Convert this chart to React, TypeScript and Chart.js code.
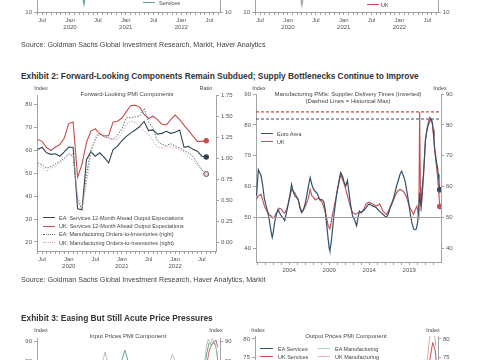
import React, { useEffect, useRef } from "react";
import { Chart, registerables } from "chart.js";
Chart.register(...registerables);

const FONT = '"Liberation Sans", Arial, Helvetica, sans-serif';
const AXIS = "#8c8c8c";
const TICK = "#555555";
const EA_DARK = "#2f4456";
const EA_BLUE = "#34506b";
const UK_RED = "#c44e4e";

// ---------- Exhibit 2 (left): Forward-Looking PMI Components, monthly Jun 2019 .. Aug 2022 ----------
const fwdStartYear = 2019;
const fwdStartMonth0 = 5; // June
const eaServicesExpectations = [60.4, 61.4, 59.0, 58.3, 58.6, 57.5, 59.4, 61.5, 61.3, 34.5, 34.0, 56.0, 59.5, 57.5, 59.0, 57.0, 54.6, 60.4, 61.9, 64.3, 66.2, 67.7, 69.0, 70.5, 72.7, 68.7, 69.0, 67.2, 67.5, 68.4, 67.5, 68.0, 69.0, 61.4, 61.8, 60.5, 59.7, 57.5, 57.2];
const ukServicesExpectations = [64.8, 64.0, 61.3, 60.0, 61.5, 62.6, 65.5, 71.8, 72.5, 48.3, 54.0, 63.5, 68.5, 69.5, 67.2, 66.4, 66.5, 72.5, 72.8, 74.2, 77.0, 79.7, 79.8, 79.0, 75.8, 74.0, 75.0, 73.5, 71.5, 71.2, 73.5, 75.5, 73.5, 71.0, 68.8, 66.3, 64.0, 64.0, 64.3];
const eaOrdersToInventories = [0.94, 0.92, 0.88, 0.90, 0.93, 0.96, 1.00, 1.05, 1.02, 0.50, 0.38, 0.80, 1.10, 1.22, 1.30, 1.25, 1.24, 1.22, 1.27, 1.35, 1.48, 1.48, 1.49, 1.50, 1.59, 1.43, 1.36, 1.20, 1.16, 1.15, 1.17, 1.14, 1.12, 1.09, 1.06, 1.02, 0.94, 0.86, 0.81];
const ukOrdersToInventories = [0.90, 0.89, 0.84, 0.88, 0.90, 0.94, 0.98, 1.04, 1.05, 0.55, 0.40, 0.70, 1.05, 1.25, 1.33, 1.28, 1.24, 1.23, 1.22, 1.30, 1.40, 1.44, 1.42, 1.38, 1.32, 1.28, 1.20, 1.13, 1.12, 1.14, 1.13, 1.12, 1.10, 1.07, 1.02, 0.97, 0.92, 0.86, 0.81];
const fwdIndexTicks = [20, 30, 40, 50, 60, 70, 80];
const fwdRatioTicks = [0, 0.25, 0.5, 0.75, 1.0, 1.25, 1.5, 1.75];

// ---------- Exhibit 2 (right): Supplier delivery times (inverted) ----------
const euroAreaDates = [1999.92, 2000.14, 2000.48, 2000.7, 2000.9, 2001.12, 2001.35, 2001.53, 2001.75, 2001.88, 2002.0, 2002.17, 2002.4, 2002.6, 2002.8, 2003.02, 2003.25, 2003.44, 2003.65, 2003.87, 2004.1, 2004.29, 2004.5, 2004.71, 2004.92, 2005.14, 2005.35, 2005.56, 2005.78, 2005.98, 2006.15, 2006.33, 2006.5, 2006.62, 2006.85, 2007.05, 2007.25, 2007.47, 2007.7, 2007.89, 2008.1, 2008.32, 2008.5, 2008.61, 2008.75, 2008.87, 2009.0, 2009.08, 2009.22, 2009.37, 2009.58, 2009.79, 2009.95, 2010.14, 2010.3, 2010.43, 2010.65, 2010.86, 2011.07, 2011.28, 2011.5, 2011.7, 2011.92, 2012.13, 2012.42, 2012.6, 2012.77, 2013.0, 2013.19, 2013.4, 2013.61, 2013.82, 2014.04, 2014.25, 2014.46, 2014.67, 2014.88, 2015.1, 2015.31, 2015.52, 2015.73, 2015.94, 2016.15, 2016.37, 2016.58, 2016.79, 2017.0, 2017.21, 2017.42, 2017.63, 2017.85, 2018.05, 2018.27, 2018.49, 2018.7, 2018.9, 2019.11, 2019.32, 2019.54, 2019.7, 2019.88, 2020.05, 2020.17, 2020.3, 2020.39, 2020.47, 2020.6, 2020.8, 2021.03, 2021.2, 2021.32, 2021.45, 2021.57, 2021.7, 2021.79, 2021.9, 2021.99, 2022.08, 2022.17, 2022.3, 2022.42, 2022.55, 2022.63, 2022.72, 2022.81];
const euroAreaDelivery = [57.0, 65.5, 63.6, 60.2, 56.0, 53.7, 51.5, 48.9, 45.2, 43.5, 45.0, 48.4, 51.0, 52.7, 51.5, 50.5, 49.8, 49.0, 51.5, 54.3, 57.5, 60.7, 58.5, 57.0, 56.5, 55.7, 53.0, 51.6, 52.5, 54.3, 56.5, 59.1, 61.5, 62.9, 60.5, 59.1, 58.5, 57.9, 56.5, 55.7, 55.8, 55.2, 52.5, 49.5, 46.0, 43.0, 40.0, 39.2, 41.5, 45.0, 50.5, 54.8, 58.0, 60.7, 63.0, 64.5, 63.5, 61.5, 60.2, 62.0, 57.5, 53.7, 50.5, 49.5, 47.3, 50.0, 52.1, 51.5, 52.1, 52.5, 53.2, 54.0, 54.4, 54.0, 53.7, 53.5, 53.2, 52.5, 52.0, 51.5, 51.0, 50.5, 50.1, 51.0, 53.0, 54.5, 55.9, 58.0, 60.2, 62.0, 64.0, 65.0, 63.5, 61.7, 58.5, 55.4, 51.5, 48.4, 46.3, 46.0, 46.3, 48.4, 52.0, 58.0, 55.0, 53.7, 58.0, 65.0, 75.3, 78.0, 79.5, 80.5, 81.2, 81.9, 81.5, 80.5, 78.5, 75.5, 72.6, 70.0, 67.7, 66.0, 64.0, 61.5, 59.0];
const ukDates = [1999.92, 2000.14, 2000.48, 2000.7, 2000.9, 2001.12, 2001.33, 2001.55, 2001.75, 2001.95, 2002.17, 2002.4, 2002.6, 2002.8, 2003.02, 2003.25, 2003.44, 2003.65, 2003.87, 2004.08, 2004.29, 2004.5, 2004.71, 2004.92, 2005.14, 2005.35, 2005.56, 2005.78, 2005.98, 2006.15, 2006.33, 2006.5, 2006.62, 2006.83, 2007.05, 2007.26, 2007.47, 2007.68, 2007.89, 2008.1, 2008.3, 2008.52, 2008.7, 2008.87, 2009.08, 2009.22, 2009.37, 2009.58, 2009.79, 2010.0, 2010.22, 2010.43, 2010.65, 2010.86, 2011.07, 2011.28, 2011.5, 2011.7, 2011.92, 2012.13, 2012.34, 2012.55, 2012.77, 2013.0, 2013.19, 2013.4, 2013.61, 2013.82, 2014.04, 2014.25, 2014.46, 2014.67, 2014.88, 2015.1, 2015.31, 2015.52, 2015.73, 2015.94, 2016.15, 2016.37, 2016.58, 2016.79, 2017.0, 2017.21, 2017.42, 2017.63, 2017.85, 2018.05, 2018.27, 2018.49, 2018.69, 2018.9, 2019.12, 2019.33, 2019.54, 2019.75, 2019.96, 2020.1, 2020.2, 2020.3, 2020.39, 2020.47, 2020.6, 2020.8, 2021.03, 2021.2, 2021.32, 2021.45, 2021.57, 2021.7, 2021.79, 2021.9, 2021.99, 2022.08, 2022.17, 2022.3, 2022.42, 2022.55, 2022.63, 2022.72, 2022.81];
const ukDelivery = [55.9, 57.0, 57.5, 55.5, 53.7, 52.5, 51.6, 50.8, 50.5, 49.8, 50.3, 51.5, 52.2, 53.0, 52.7, 51.8, 51.5, 52.5, 54.3, 56.5, 59.1, 58.5, 58.0, 56.8, 55.7, 53.5, 51.8, 52.5, 53.5, 54.5, 55.7, 57.5, 59.1, 57.0, 56.5, 55.7, 56.0, 56.4, 55.5, 55.0, 53.5, 51.6, 49.5, 47.3, 46.3, 48.0, 50.5, 53.0, 55.7, 58.5, 61.2, 63.9, 62.4, 61.0, 59.1, 57.0, 54.8, 53.0, 51.6, 51.3, 51.0, 51.5, 51.6, 51.8, 52.0, 53.2, 54.4, 54.8, 55.0, 54.6, 54.4, 54.0, 53.7, 54.0, 54.4, 53.2, 52.0, 51.5, 51.0, 52.0, 53.0, 54.0, 55.4, 56.8, 58.0, 58.8, 59.1, 58.8, 58.5, 57.5, 56.4, 54.5, 53.0, 52.0, 51.0, 52.5, 53.7, 51.5, 50.5, 84.2, 60.0, 52.0, 56.0, 64.0, 75.0, 78.5, 80.0, 81.5, 82.5, 82.0, 81.5, 80.0, 78.0, 75.0, 72.0, 69.0, 66.0, 63.0, 60.0, 57.0, 53.6];
const euroAreaHistoricalMax = 81.9;
const ukHistoricalMax = 84.2;
const neutralLevel = 50;
const deliveryIndexTicks = [40, 50, 60, 70, 80, 90];
const deliveryYearTicks = [2000, 2001, 2002, 2003, 2004, 2005, 2006, 2007, 2008, 2009, 2010, 2011, 2012, 2013, 2014, 2015, 2016, 2017, 2018, 2019, 2020, 2021, 2022];
const deliveryYearLabels = [2004, 2009, 2014, 2019];

// ---------- Exhibit 1 (bottom edge visible only) ----------
const ex1DipMonths = [9, 10, 11];
const ex1ServicesDip = [30, 14.5, 32];
const ex1OtherDip = [30, 14, 32];
const ex1IndexTicks = [10, 20, 30, 40, 50, 60, 70];

// ---------- Exhibit 3 (top edge visible only) ----------
const ex3InputUkMfgYears = [2007.9, 2008.45, 2009.0, 2012.0, 2016.4, 2016.95, 2017.6, 2019.0, 2020.9, 2021.25, 2021.5, 2021.75, 2022.0, 2022.25, 2022.5, 2022.7];
const ex3InputUkMfg = [76, 84.5, 76, null, 76, 83.5, 76, null, 75, 87, 91, 88, 91.2, 90, 86, 83];
const ex3InputEaMfgYears = [2010.4, 2010.95, 2011.5, 2015.0, 2020.9, 2021.3, 2021.6, 2021.9, 2022.2, 2022.5, 2022.7];
const ex3InputEaMfg = [78, 85.5, 78, null, 74, 84, 89, 88, 90, 86, 80];
const ex3InputUkSvcYears = [2021.1, 2021.6, 2021.9, 2022.2, 2022.45, 2022.7];
const ex3InputUkSvc = [74, 85, 88, 89, 90.5, 87];
const ex3OutputUkMfgYears = [2021.5, 2021.9, 2022.2, 2022.5, 2022.7];
const ex3OutputUkMfg = [72, 80, 83, 82, 78];
const ex3OutputUkSvcYears = [2021.6, 2022.0, 2022.3, 2022.6, 2022.75];
const ex3OutputUkSvc = [70, 75, 79, 77, 74];

const monthTickLabel = (m: number) => {
  const t = fwdStartMonth0 + m;
  const mo = ((t % 12) + 12) % 12;
  const yr = fwdStartYear + Math.floor(t / 12);
  if (mo === 0) return ["Jan", String(yr)];
  if (mo === 6) return "Jul";
  return "";
};

const range = (a: number, b: number) => {
  const r: number[] = [];
  for (let i = a; i <= b; i++) r.push(i);
  return r;
};

function yScale(position: string, min: number, max: number, ticks: number[], width: number, fmt: (v: number) => string) {
  return {
    type: "linear",
    position,
    min,
    max,
    afterFit: (s: any) => { s.width = width; },
    afterBuildTicks: (s: any) => { s.ticks = ticks.map((v) => ({ value: v })); },
    grid: { display: true, drawOnChartArea: false, drawTicks: true, tickLength: 3, color: AXIS, lineWidth: 0.8 },
    border: { display: true, color: AXIS, width: 0.8 },
    ticks: { autoSkip: false, padding: 2, color: TICK, font: { family: FONT, size: 6 }, callback: (v: any) => fmt(Number(v)) },
  };
}

function xScale(min: number, max: number, ticks: number[], height: number, label: (v: number) => any) {
  return {
    type: "linear",
    position: "bottom",
    min,
    max,
    afterFit: (s: any) => { s.height = height; },
    afterBuildTicks: (s: any) => { s.ticks = ticks.map((v) => ({ value: v })); },
    grid: { display: true, drawOnChartArea: false, drawTicks: true, tickLength: 3, color: AXIS, lineWidth: 0.8 },
    border: { display: true, color: AXIS, width: 0.8 },
    ticks: { autoSkip: false, maxRotation: 0, minRotation: 0, padding: 1.5, color: TICK, font: { family: FONT, size: 6, lineHeight: 1.15 }, callback: (v: any) => label(Number(v)) },
  };
}

const baseOptions = (padTop: number) => ({
  responsive: false,
  animation: false,
  devicePixelRatio: 1,
  events: [],
  layout: { padding: { top: padTop, left: 0, right: 0, bottom: 0 } },
  plugins: { legend: { display: false }, tooltip: { enabled: false }, title: { display: false } },
  elements: { line: { tension: 0, borderWidth: 1.1 }, point: { radius: 0 } },
});

const xy = (xs: number[], ys: (number | null)[]) => xs.map((x, i) => ({ x, y: ys[i] }));
const byIndex = (ys: number[]) => ys.map((y, i) => ({ x: i, y }));
const lastOnly = (n: number, r: number) => (ctx: any) => (ctx.dataIndex === n - 1 ? r : 0);

function fwdConfig(): any {
  const n = eaServicesExpectations.length;
  return {
    type: "line",
    data: {
      datasets: [
        { data: byIndex(ukOrdersToInventories), yAxisID: "y1", borderColor: "#d6a4a4", borderWidth: 1, borderDash: [1.4, 1.4], pointRadius: lastOnly(n, 2.4), pointBackgroundColor: "#efcfcf", pointBorderColor: "#666", pointBorderWidth: 0.8 },
        { data: byIndex(eaOrdersToInventories), yAxisID: "y1", borderColor: "#56697a", borderWidth: 1, borderDash: [1.4, 1.4], pointRadius: lastOnly(n, 2.4), pointBackgroundColor: "#efcfcf", pointBorderColor: "#555", pointBorderWidth: 0.8 },
        { data: byIndex(ukServicesExpectations), yAxisID: "y", borderColor: UK_RED, borderWidth: 1.1, pointRadius: lastOnly(n, 2.2), pointBackgroundColor: UK_RED, pointBorderColor: UK_RED },
        { data: byIndex(eaServicesExpectations), yAxisID: "y", borderColor: EA_DARK, borderWidth: 1.1, pointRadius: lastOnly(n, 2.2), pointBackgroundColor: EA_DARK, pointBorderColor: EA_DARK },
      ],
    },
    options: {
      ...baseOptions(6),
      scales: {
        x: xScale(-0.15, 40.2, range(0, 40), 20, monthTickLabel),
        y: yScale("left", 16, 84.3, fwdIndexTicks, 22, (v) => String(v)),
        y1: yScale("right", -0.106, 1.75, fwdRatioTicks, 24, (v) => v.toFixed(2)),
      },
    },
  };
}

const X0 = 1999.85;
const X1 = 2022.97;

function deliveryConfig(): any {
  const nE = euroAreaDelivery.length;
  const nU = ukDelivery.length;
  const hline = (y: number) => [{ x: X0, y }, { x: X1, y }];
  return {
    type: "line",
    data: {
      datasets: [
        { data: hline(neutralLevel), borderColor: "#a0a0a0", borderWidth: 1 },
        { data: hline(ukHistoricalMax), borderColor: UK_RED, borderWidth: 1.1, borderDash: [3, 2] },
        { data: hline(euroAreaHistoricalMax), borderColor: EA_BLUE, borderWidth: 1.1, borderDash: [3, 2] },
        { data: xy(euroAreaDates, euroAreaDelivery), borderColor: EA_BLUE, borderWidth: 1.2, pointRadius: lastOnly(nE, 2.2), pointBackgroundColor: EA_BLUE, pointBorderColor: EA_BLUE },
        { data: xy(ukDates, ukDelivery), borderColor: UK_RED, borderWidth: 1.1, pointRadius: lastOnly(nU, 2.2), pointBackgroundColor: UK_RED, pointBorderColor: UK_RED },
      ],
    },
    options: {
      ...baseOptions(6),
      scales: {
        x: xScale(X0, X1, deliveryYearTicks, 20, (v) => (deliveryYearLabels.includes(v) ? String(v) : "")),
        y: yScale("left", 35.6, 90, deliveryIndexTicks, 20, (v) => String(v)),
        y1: yScale("right", 35.6, 90, deliveryIndexTicks, 22, (v) => String(v)),
      },
    },
  };
}

function ex1Config(color: string, values: number[]): any {
  return {
    type: "line",
    data: { datasets: [{ data: xy(ex1DipMonths, values), borderColor: color, borderWidth: 1.1 }] },
    options: {
      ...baseOptions(6),
      scales: {
        x: xScale(-0.1, 39.3, range(0, 39), 20, monthTickLabel),
        y: yScale("left", 10, 70, ex1IndexTicks, 22, (v) => String(v)),
        y1: yScale("right", 10, 70, ex1IndexTicks, 22, (v) => String(v)),
      },
    },
  };
}

function ex3InputConfig(): any {
  return {
    type: "line",
    data: {
      datasets: [
        { data: xy(ex3InputUkMfgYears, ex3InputUkMfg), borderColor: "#bdbdbd", borderWidth: 1, spanGaps: false },
        { data: xy(ex3InputEaMfgYears, ex3InputEaMfg), borderColor: "#6aa58a", borderWidth: 1, spanGaps: false },
        { data: xy(ex3InputUkSvcYears, ex3InputUkSvc), borderColor: "#c96a6a", borderWidth: 1 },
      ],
    },
    options: {
      ...baseOptions(6),
      scales: {
        x: xScale(X0, X1, deliveryYearTicks, 20, () => ""),
        y: yScale("left", 54.5, 91.5, [60, 70, 80, 90], 22, (v) => String(v)),
        y1: yScale("right", 54.5, 91.5, [60, 70, 80, 90], 22, (v) => String(v)),
      },
    },
  };
}

function ex3OutputConfig(): any {
  return {
    type: "line",
    data: {
      datasets: [
        { data: xy(ex3OutputUkMfgYears, ex3OutputUkMfg), borderColor: "#e2a9a9", borderWidth: 1 },
        { data: xy(ex3OutputUkSvcYears, ex3OutputUkSvc), borderColor: UK_RED, borderWidth: 1 },
      ],
    },
    options: {
      ...baseOptions(6),
      scales: {
        x: xScale(X0, X1, deliveryYearTicks, 20, () => ""),
        y: yScale("left", 60.5, 80.8, [65, 70, 75, 80], 22, (v) => String(v)),
        y1: yScale("right", 60.5, 80.8, [65, 70, 75, 80], 22, (v) => String(v)),
      },
    },
  };
}

function ChartCanvas({ left, top, width, height, make }: any) {
  const ref = useRef<HTMLCanvasElement>(null);
  useEffect(() => {
    const chart = new Chart(ref.current as HTMLCanvasElement, make());
    return () => chart.destroy();
  }, []);
  return <canvas ref={ref} width={width} height={height} style={{ position: "absolute", left, top, width, height }} />;
}

function T({ x, y, s = 6, w = 400, c = "#444", a = "start", children }: any) {
  const style: any = {
    position: "absolute",
    top: y - s * 0.62,
    fontSize: s,
    fontWeight: w,
    color: c,
    whiteSpace: "nowrap",
    lineHeight: 1.2,
    fontFamily: FONT,
  };
  if (a === "middle") {
    style.left = x;
    style.transform = "translateX(-50%)";
  } else if (a === "end") {
    style.right = 480 - x;
  } else {
    style.left = x;
  }
  return <div style={style}>{children}</div>;
}

function L({ x, y, w = 12, c, dash = "solid", t = 1.2 }: any) {
  return <div style={{ position: "absolute", left: x, top: y - t / 2, width: w, height: 0, borderTop: `${t}px ${dash} ${c}` }} />;
}

export default function App() {
  return (
    <div style={{ position: "fixed", left: 0, top: 0, width: 480, height: 360, overflow: "hidden", background: "#fff", fontFamily: FONT }}>
      {/* Exhibit 1 (bottom edge) */}
      <ChartCanvas left={15} top={-94} width={227} height={126} make={() => ex1Config("#5f9f86", ex1ServicesDip)} />
      <ChartCanvas left={233} top={-94} width={227} height={126} make={() => ex1Config("#9a9a9a", ex1OtherDip)} />
      <L x={143} y={3} c="#5f9f86" />
      <T x={159} y={3} s={5.5}>Services</T>
      <L x={367} y={5} c={UK_RED} />
      <T x={381} y={5} s={5.5}>UK</T>
      <T x={21} y={45} s={7.1}>Source: Goldman Sachs Global Investment Research, Markit, Haver Analytics</T>

      {/* Exhibit 2 */}
      <T x={21} y={76} s={8.35} w={700} c="#333">Exhibit 2: Forward-Looking Components Remain Subdued; Supply Bottlenecks Continue to Improve</T>

      <ChartCanvas left={15} top={89} width={225} height={182} make={fwdConfig} />
      <T x={41} y={88} s={5.5} a="middle">Index</T>
      <T x={206} y={88} s={5.5} a="middle">Ratio</T>
      <T x={127} y={95} s={6} a="middle">Forward-Looking PMI Components</T>
      <L x={43} y={218} c={EA_DARK} />
      <T x={59} y={218} s={5.5}>EA: Services 12-Month Ahead Output Expectations</T>
      <L x={43} y={226.3} c={UK_RED} />
      <T x={59} y={226.3} s={5.5}>UK: Services 12-Month Ahead Output Expectations</T>
      <L x={43} y={234.6} c="#56697a" dash="dotted" t={1.2} />
      <T x={59} y={234.6} s={5.5}>EA: Manufacturing Orders-to-Inventories (right)</T>
      <L x={43} y={243} c="#d6a4a4" dash="dotted" t={1.2} />
      <T x={59} y={243} s={5.5}>UK: Manufacturing Orders-to-Inventories (right)</T>

      <ChartCanvas left={236} top={88} width={227} height={194} make={deliveryConfig} />
      <T x={259} y={88} s={5.5} a="middle">Index</T>
      <T x={440} y={88} s={5.5} a="middle">Index</T>
      <T x={348} y={95} s={6} a="middle">Manufacturing PMIs: Supplier Delivery Times (Inverted)</T>
      <T x={348} y={101.5} s={6} a="middle">(Dashed Lines = Historical Max)</T>
      <L x={261} y={134} c={EA_BLUE} />
      <T x={277} y={134} s={5.5}>Euro Area</T>
      <L x={261} y={142} c={UK_RED} />
      <T x={277} y={142} s={5.5}>UK</T>

      <T x={21} y={280} s={7.1}>Source: Goldman Sachs Global Investment Research, Haver Analytics, Markit</T>

      {/* Exhibit 3 (top edge) */}
      <T x={21} y={318} s={8.35} w={700} c="#333">Exhibit 3: Easing But Still Acute Price Pressures</T>
      <ChartCanvas left={15} top={332} width={227} height={100} make={ex3InputConfig} />
      <ChartCanvas left={233} top={330} width={227} height={100} make={ex3OutputConfig} />
      <T x={41} y={330} s={5.5} a="middle">Index</T>
      <T x={216} y={330} s={5.5} a="middle">Index</T>
      <T x={128} y={337} s={6} a="middle">Input Prices PMI Component</T>
      <T x={258} y={330} s={5.5} a="middle">Index</T>
      <T x={433} y={330} s={5.5} a="middle">Index</T>
      <T x={346} y={337} s={6} a="middle">Output Prices PMI Component</T>
      <L x={260} y={349} w={13} c={EA_BLUE} />
      <T x={278} y={349} s={5.5}>EA Services</T>
      <L x={260} y={357} w={13} c={UK_RED} />
      <T x={278} y={357} s={5.5}>UK Services</T>
      <L x={318} y={349} w={12} c="#a9cdb9" />
      <T x={335} y={349} s={5.5}>EA Manufacturing</T>
      <L x={318} y={357} w={12} c="#e2b4b4" />
      <T x={335} y={357} s={5.5}>UK Manufacturing</T>
    </div>
  );
}
